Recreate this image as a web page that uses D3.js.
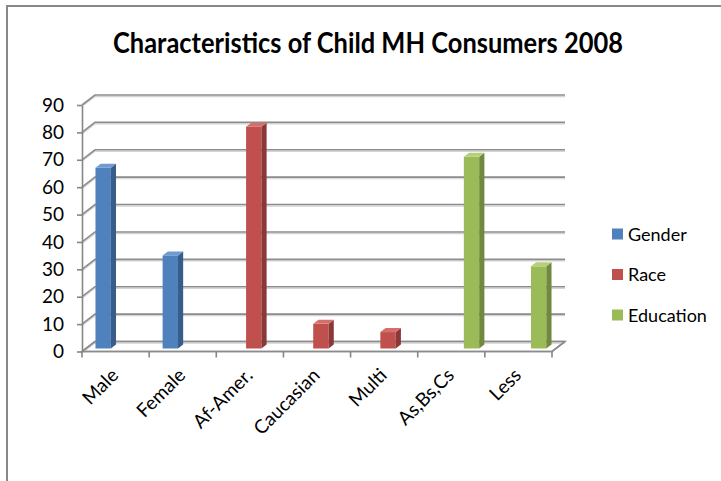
<!DOCTYPE html>
<html>
<head>
    <meta charset="utf-8">
    <style>
        body { margin: 0; background: #fff; }
        text { font-family: Lato, "Open Sans", sans-serif; }
    </style>
</head>
<body>
<div id="chart"></div>
<script src="https://cdn.jsdelivr.net/npm/d3@7"></script>
<script>

    var categories = ["Male", "Female", "Af-Amer.", "Caucasian", "Multi", "As,Bs,Cs", "Less"];
    var seriesNames = ["Gender", "Race", "Education"];
    var gender = [66, 34, null, null, null, null, null];
    var race = [null, null, 81, 9, 6, null, null];
    var education = [null, null, null, null, null, 70, 30];
    var yTicks = [0, 10, 20, 30, 40, 50, 60, 70, 80, 90];

    var w = 721, h = 481;
    var DX = 13, DY = -10;          // depth of the 3d box
    var barF0 = 0.3, barF1 = 0.7;   // bar depth position inside the box

    var colors = {
        Gender: {front: "#4f81bd", side: "#385d8a", top: "#6f9bd1"},
        Race: {front: "#c0504d", side: "#8c3836", top: "#d46f6c"},
        Education: {front: "#9bbb59", side: "#71893f", top: "#b3d07a"}
    };

    var svg = d3.select("#chart").append("svg")
        .attr("width", w)
        .attr("height", h);

    // chart frame
    svg.append("path")
        .attr("d", "M7," + h + "V6H" + w)
        .attr("fill", "none")
        .attr("stroke", "#898989")
        .attr("stroke-width", 2);

    svg.append("text")
        .attr("x", 368)
        .attr("y", 53)
        .attr("text-anchor", "middle")
        .attr("font-size", 28)
        .attr("font-weight", "bold")
        .attr("textLength", 510)
        .attr("lengthAdjust", "spacingAndGlyphs")
        .text("Characteristics of Child MH Consumers 2008");

    var x = d3.scaleBand().domain(categories).range([82, 552]);
    var y = d3.scaleLinear().domain([0, 90]).range([351.5, 105]);
    var slotW = 16;
    var xs = d3.scaleBand().domain(seriesNames)
        .range([x.bandwidth() / 2 - 1.5 * slotW, x.bandwidth() / 2 + 1.5 * slotW])
        .paddingInner(0.06);

    var x0 = x.range()[0], x1 = x.range()[1];

    // floor
    svg.append("path")
        .attr("d", "M" + x0 + "," + y(0) + "H" + x1 + "l" + DX + "," + DY + "H" + (x0 + DX) + "Z")
        .attr("fill", "#fff")
        .attr("stroke", "#8c8c8c")
        .attr("stroke-width", 1.5);

    // gridlines on the back wall and left wall
    var grid = svg.append("g");
    grid.selectAll(".shadow")
        .data(yTicks)
        .enter()
        .append("path")
        .attr("d", function (d) {
            var yy = y(d) + 1.6;
            return "M" + x0 + "," + yy + "l" + DX + "," + DY + "H" + (x1 + DX);
        })
        .attr("fill", "none")
        .attr("stroke", "#d4d4d4")
        .attr("stroke-width", 1.2);
    grid.selectAll(".line")
        .data(yTicks)
        .enter()
        .append("path")
        .attr("d", function (d) {
            return "M" + x0 + "," + y(d) + "l" + DX + "," + DY + "H" + (x1 + DX);
        })
        .attr("fill", "none")
        .attr("stroke", "#8c8c8c")
        .attr("stroke-width", 1.6);

    // floor front edge on top of the zero gridline
    svg.append("path")
        .attr("d", "M" + x0 + "," + y(0) + "H" + x1 + "l" + DX + "," + DY)
        .attr("fill", "none")
        .attr("stroke", "#8c8c8c")
        .attr("stroke-width", 1.6);

    // y axis
    var yAxis = d3.axisLeft(y).tickValues(yTicks).tickSize(5).tickSizeOuter(0).tickPadding(13);
    var ya = svg.append("g")
        .attr("transform", "translate(" + x0 + ",0)")
        .call(yAxis);
    ya.select(".domain").attr("stroke", "#868686").attr("stroke-width", 1.6);
    ya.selectAll(".tick line").attr("stroke", "#868686").attr("stroke-width", 1.6);
    ya.selectAll(".tick text")
        .attr("font-family", "Lato, sans-serif")
        .attr("font-size", 19)
        .attr("fill", "#000");

    // category ticks at band edges
    var edges = categories.map(function (c) { return x(c); }).concat([x1]);
    svg.selectAll(".xtick")
        .data(edges)
        .enter()
        .append("line")
        .attr("x1", function (d) { return d; })
        .attr("x2", function (d) { return d; })
        .attr("y1", y(0))
        .attr("y2", y(0) + 6)
        .attr("stroke", "#868686")
        .attr("stroke-width", 1.6);

    // category labels
    var xAxis = d3.axisBottom(x).tickSize(0).tickPadding(0);
    var xa = svg.append("g")
        .attr("transform", "translate(0," + y(0) + ")")
        .call(xAxis);
    xa.select(".domain").remove();
    xa.selectAll(".tick text")
        .attr("font-family", "Lato, sans-serif")
        .attr("font-size", 19)
        .attr("fill", "#000")
        .attr("text-anchor", "end")
        .attr("dy", 0)
        .attr("transform", "translate(4,25) rotate(-45)");

    // bars
    var seriesData = [gender, race, education];
    var bars = [];
    seriesData.forEach(function (vals, si) {
        vals.forEach(function (v, ci) {
            if (v !== null) bars.push({series: seriesNames[si], cat: categories[ci], value: v});
        });
    });

    var bw = xs.bandwidth();
    var bar = svg.selectAll(".bar")
        .data(bars)
        .enter()
        .append("g")
        .attr("class", "bar");

    function bx(d) { return x(d.cat) + xs(d.series) + barF0 * DX; }
    function by(v) { return y(v) + barF0 * DY; }
    var ddx = (barF1 - barF0) * DX, ddy = (barF1 - barF0) * DY;

    bar.append("rect")
        .attr("x", bx)
        .attr("y", function (d) { return by(d.value); })
        .attr("width", bw)
        .attr("height", function (d) { return by(0) - by(d.value); })
        .attr("fill", function (d) { return colors[d.series].front; });

    bar.append("path")
        .attr("d", function (d) {
            var xr = bx(d) + bw, yt = by(d.value), yb = by(0);
            return "M" + xr + "," + yt + "l" + ddx + "," + ddy + "V" + (yb + ddy) + "l" + (-ddx) + "," + (-ddy) + "Z";
        })
        .attr("fill", function (d) { return colors[d.series].side; });

    bar.append("path")
        .attr("d", function (d) {
            var xl = bx(d), yt = by(d.value);
            return "M" + xl + "," + yt + "l" + ddx + "," + ddy + "h" + bw + "l" + (-ddx) + "," + (-ddy) + "Z";
        })
        .attr("fill", function (d) { return colors[d.series].top; });

    // legend
    var legend = svg.selectAll(".legend")
        .data(seriesNames)
        .enter()
        .append("g")
        .attr("transform", function (d, i) { return "translate(612," + (234 + i * 40.5) + ")"; });
    legend.append("rect")
        .attr("x", 0)
        .attr("y", -5.5)
        .attr("width", 11)
        .attr("height", 11)
        .attr("fill", function (d) { return colors[d].front; });
    legend.append("text")
        .attr("x", 16)
        .attr("y", 6.5)
        .attr("font-size", 18)
        .attr("fill", "#000")
        .text(function (d) { return d; });

</script>
</body>
</html>
